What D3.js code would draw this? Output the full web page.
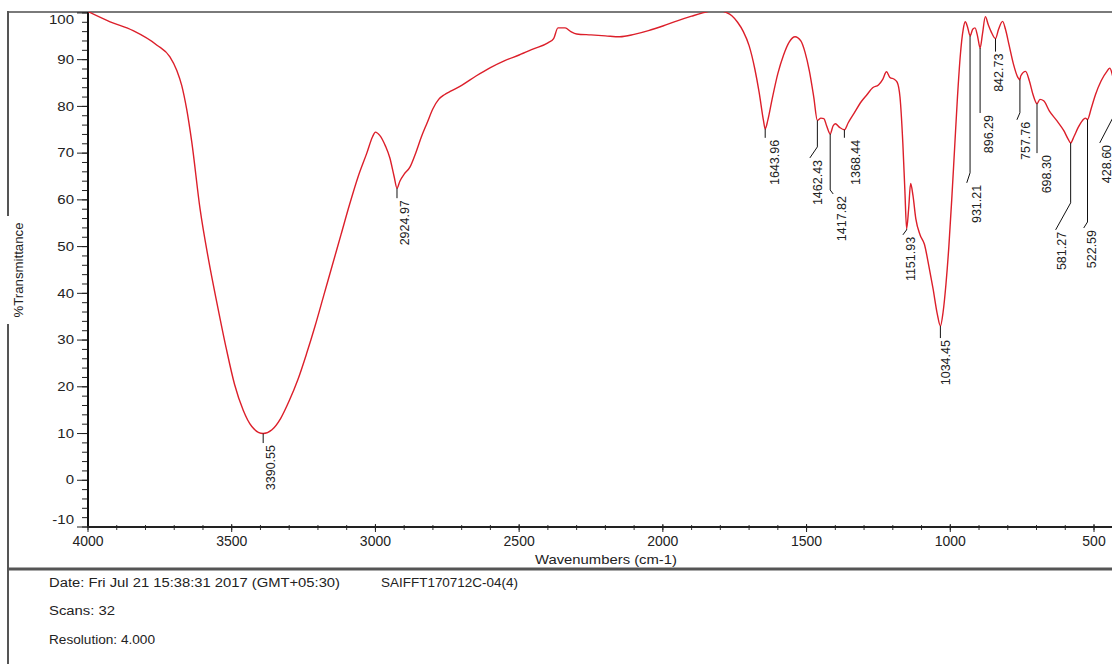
<!DOCTYPE html>
<html><head><meta charset="utf-8">
<script src="https://cdn.jsdelivr.net/npm/d3@7"></script>
<style>
body{margin:0;background:#fff}
svg{display:block}
text{font-family:"Liberation Sans",Arial,sans-serif;fill:#222}
</style>
</head><body>
<svg id="chart" width="1112" height="664"></svg>
<script>
// ---------------- data ----------------
const wavenumbers = [4000,3923,3843,3760,3715,3691,3674,3657,3639,3610,3580,3550,3520,3490,3460,3430,3390.55,3360,3330,3300,3270,3240,3210,3180,3150,3120,3090,3060,3030,3010,3000,2985,2965,2950,2935,2924.97,2915,2900,2880,2860,2840,2820,2800,2780,2760,2740,2700,2650,2600,2550,2500,2450,2400,2380,2365,2340,2320,2300,2250,2200,2150,2100,2050,2000,1950,1900,1850,1820,1800,1780,1760,1740,1720,1700,1680,1665,1650,1643.96,1635,1620,1600,1580,1560,1540,1520,1505,1490,1475,1462.43,1450,1440,1430,1417.82,1408,1400,1385,1368.44,1355,1335,1310,1290,1270,1250,1235,1222,1210,1195,1185,1175,1165,1158,1151.93,1145,1138,1130,1120,1105,1090,1075,1060,1045,1034.45,1025,1015,1005,995,985,975,965,955,948,940,931.21,922,914,905,896.29,888,878,868,858,842.73,832,818,808,795,780,765,757.76,755,738,725,712,698.3,688,675,655,630,605,590,581.27,570,555,540,530,522.59,510,495,475,455,445,435,428.6,415,400];
const transmittance = [100.3,98.1,96.2,93.1,90.6,87.7,84.5,79.5,72.4,58,47,37.5,28.5,20.5,15,11.5,10,10.8,13.2,17,21.5,27,33,39.5,46,52.5,59,65,70,73.5,74.5,73.8,71.5,69,65,62.5,64,65.5,67,70,73.5,76.5,79.5,81.5,82.5,83.2,84.5,86.5,88.3,89.8,91,92.3,93.6,94.5,96.8,96.8,96,95.5,95.3,95.1,94.9,95.4,96.2,97.2,98.3,99.3,100.2,100.6,100.5,100.1,99.4,98,96,93,88,83,77,75.2,77,81.5,87,91,93.8,94.9,94,91.5,87.5,82,77,77.5,77.4,75.8,74.1,75.8,76.3,75.5,75,76.5,78.5,81,82.5,84,84.6,85.8,87.4,86.2,85.8,85.2,82,72,62,53.8,58,63.5,61,56,52.5,50.5,46,41,35.5,33,36,42,50,60,71,82,91,96.5,98.1,97,95.1,96.5,96.8,95,92.5,95.5,99.2,97.5,96,94.5,96.5,98.2,96.5,93,89,86.2,85.7,86.5,87.5,85.5,82.5,80.6,81.5,81.2,79,77,74.8,73,72.2,73.5,75.5,77,77.5,77.2,79.5,82.5,85.5,87.5,88.2,86.5,85,87,88];

const peakWavenumbers = [3390.55,2924.97,1643.96,1462.43,1417.82,1368.44,1151.93,1034.45,931.21,896.29,842.73,757.76,698.30,581.27,522.59,428.60];
const peakTransmittance = [10,62.5,75.2,77,74.1,75,53.8,33,95.1,92.5,94.5,85.7,80.6,72.2,77.2,85];
const peakLabels = ["3390.55","2924.97","1643.96","1462.43","1417.82","1368.44","1151.93","1034.45","931.21","896.29","842.73","757.76","698.30","581.27","522.59","428.60"];

const xMajorTicks = [4000,3500,3000,2500,2000,1500,1000,500];
const xTickLabels = ["4000","3500","3000","2500","2000","1500","1000","500"];
const yMajorTicks = [-10,0,10,20,30,40,50,60,70,80,90,100];
const yTickLabels = ["-10","0","10","20","30","40","50","60","70","80","90","100"];

const xTitle = "Wavenumbers (cm-1)";
const yTitle = "%Transmittance";
const footerDate = "Date: Fri Jul 21 15:38:31 2017 (GMT+05:30)";
const footerId = "SAIFFT170712C-04(4)";
const footerScans = "Scans: 32";
const footerRes = "Resolution: 4.000";

// ---------------- layout (styles only) ----------------
// leader layout per peak: vertical drop, slant dx/dy, baseline offset of text
const peakLayout = [
  {drop:9.5,sdx:0,sdy:0,tdx:11.8},
  {drop:10,sdx:0,sdy:0,tdx:11.6},
  {drop:9,sdx:0,sdy:0,tdx:14},
  {drop:26.5,sdx:-7.5,sdy:11,tdx:12.5},
  {drop:56,sdx:3,sdy:4,tdx:13},
  {drop:8,sdx:0,sdy:0,tdx:16},
  {drop:1,sdx:-3.7,sdy:5,tdx:12},
  {drop:12,sdx:0,sdy:0,tdx:10},
  {drop:137,sdx:-3.3,sdy:10,tdx:14.5},
  {drop:65,sdx:0,sdy:0,tdx:13},
  {drop:13,sdx:0,sdy:0,tdx:8},
  {drop:33,sdx:-3,sdy:7,tdx:13.5},
  {drop:49.5,sdx:0,sdy:0,tdx:13.7},
  {drop:60,sdx:-15,sdy:27,tdx:10.7},
  {drop:102.5,sdx:-3.8,sdy:6,tdx:12.7},
  {drop:31.5,sdx:-14.8,sdy:28.4,tdx:11.7}
];

const svg = d3.select("#chart");
const W = 1112, H = 664;
const plot = {left:88, top:12, bottom:527, right:1112};

const x = d3.scaleLinear().domain([4000, 400]).range([88, 88 + 3600 * (1006/3500)]);
const y = d3.scaleLinear().domain([-10, 100.2]).range([527, 12]);

function stretch(sel, k) {
  sel.each(function(){
    const len = this.getComputedTextLength();
    d3.select(this).attr("textLength", len * k).attr("lengthAdjust", "spacingAndGlyphs");
  });
}

// frame
svg.append("line").attr("x1",8).attr("x2",W).attr("y1",12).attr("y2",12)
  .attr("stroke","#7a7a7a").attr("stroke-width",2);
svg.append("line").attr("x1",8).attr("x2",8).attr("y1",11).attr("y2",H)
  .attr("stroke","#555").attr("stroke-width",2);
svg.append("line").attr("x1",8).attr("x2",W).attr("y1",569).attr("y2",569)
  .attr("stroke","#555").attr("stroke-width",3);

// clip
svg.append("defs").append("clipPath").attr("id","plotclip")
  .append("rect").attr("x",plot.left).attr("y",plot.top).attr("width",W-plot.left).attr("height",plot.bottom-plot.top);

// y axis
const yMinor = d3.range(-10, 100.1, 2);
svg.append("g").selectAll("line.ymin").data(yMinor).join("line")
  .attr("x1",82).attr("x2",88).attr("y1",d=>y(d)).attr("y2",d=>y(d))
  .attr("stroke","#222").attr("stroke-width",1);
svg.append("g").selectAll("line.ymaj").data(yMajorTicks).join("line")
  .attr("x1",77).attr("x2",88).attr("y1",d=>y(d)).attr("y2",d=>y(d))
  .attr("stroke","#222").attr("stroke-width",1);
const yLab = svg.append("g").selectAll("text").data(yMajorTicks).join("text")
  .attr("x",74)
  .attr("y",(d)=> y(d) + (d===100 ? 7 : d===-10 ? -7 : 0))
  .attr("dy","0.35em")
  .attr("text-anchor","end")
  .attr("font-size",12)
  .text((d,i)=>yTickLabels[i]);
stretch(yLab, 1.25);

// x axis
const xMinor = d3.range(4000, 399, -100);
svg.append("g").selectAll("line").data(xMinor).join("line")
  .attr("x1",d=>x(d)).attr("x2",d=>x(d)).attr("y1",525).attr("y2",530)
  .attr("stroke","#333").attr("stroke-width",1);
svg.append("g").selectAll("line").data(xMajorTicks).join("line")
  .attr("x1",d=>x(d)).attr("x2",d=>x(d)).attr("y1",524).attr("y2",532)
  .attr("stroke","#222").attr("stroke-width",1);
svg.append("g").selectAll("text").data(xMajorTicks).join("text")
  .attr("x",d=>x(d)).attr("y",546)
  .attr("text-anchor","middle")
  .attr("font-size",14)
  .text((d,i)=>xTickLabels[i]);

svg.append("line").attr("x1",88).attr("x2",88).attr("y1",12).attr("y2",528)
  .attr("stroke","#111").attr("stroke-width",2);
svg.append("line").attr("x1",87).attr("x2",W).attr("y1",527).attr("y2",527)
  .attr("stroke","#222").attr("stroke-width",2);

// titles
svg.append("text").attr("x",606).attr("y",564).attr("text-anchor","middle")
  .attr("font-size",13.5).attr("textLength",142).attr("lengthAdjust","spacingAndGlyphs").text(xTitle);
svg.append("rect").attr("x",4).attr("y",216).attr("width",26).attr("height",108).attr("fill","#fff");
svg.append("text").attr("transform","translate(23,270) rotate(-90)").attr("text-anchor","middle")
  .attr("font-size",12).attr("textLength",95).attr("lengthAdjust","spacingAndGlyphs").text(yTitle);

// spectrum
const pts = wavenumbers.map((w,i)=>[w, transmittance[i]]);
svg.append("path").datum(pts)
  .attr("clip-path","url(#plotclip)")
  .attr("fill","none").attr("stroke","#dc1f2a").attr("stroke-width",1.4)
  .attr("stroke-linejoin","round")
  .attr("d", d3.line().x(d=>x(d[0])).y(d=>y(d[1])).curve(d3.curveMonotoneX));

// peak annotations
const peaks = peakWavenumbers.map((w,i)=>({w, t:peakTransmittance[i], label:peakLabels[i], L:peakLayout[i]}));
const pg = svg.append("g");
peaks.forEach(p=>{
  const ax = x(p.w), ay = y(p.t);
  const by = ay + p.L.drop;
  const ex = ax + p.L.sdx, ey = by + p.L.sdy;
  pg.append("polyline").attr("points",`${ax},${ay} ${ax},${by} ${ex},${ey}`)
    .attr("fill","none").attr("stroke","#111").attr("stroke-width",1);
  pg.append("text")
    .attr("transform",`translate(${ex + p.L.tdx},${ey + 2}) rotate(-90)`)
    .attr("text-anchor","end")
    .attr("font-size",12.5)
    .text(p.label);
});

// footer
const ft = svg.append("g").attr("font-size",12.5);
ft.append("text").attr("x",49).attr("y",587).attr("textLength",291).attr("lengthAdjust","spacingAndGlyphs").text(footerDate);
ft.append("text").attr("x",381).attr("y",587).attr("textLength",137).attr("lengthAdjust","spacingAndGlyphs").text(footerId);
ft.append("text").attr("x",49).attr("y",615).attr("textLength",66).attr("lengthAdjust","spacingAndGlyphs").text(footerScans);
ft.append("text").attr("x",49).attr("y",644).attr("textLength",106).attr("lengthAdjust","spacingAndGlyphs").text(footerRes);
</script>
</body></html>
